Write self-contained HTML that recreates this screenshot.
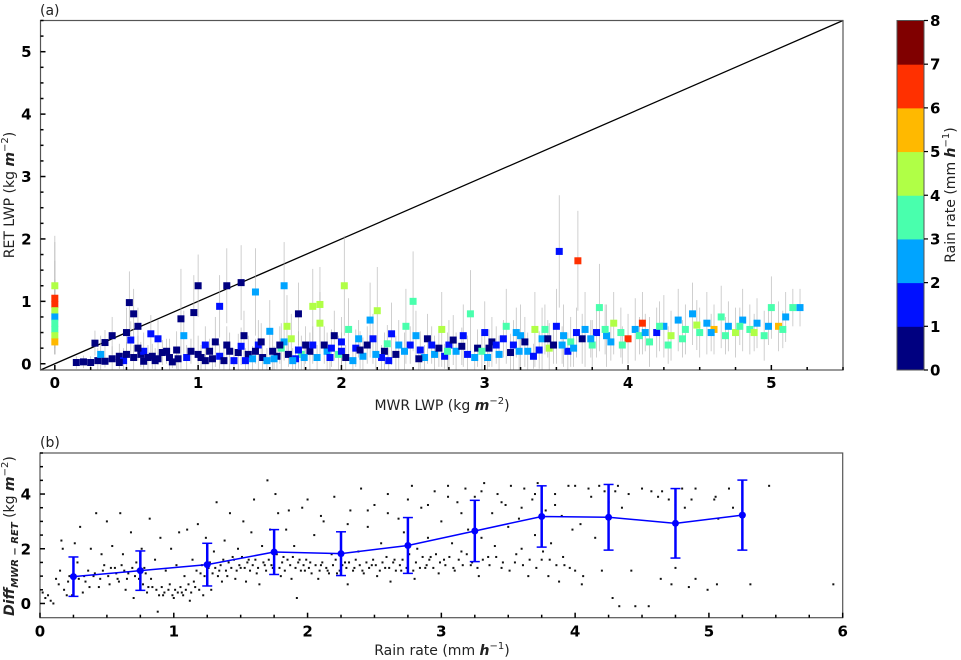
<!DOCTYPE html>
<html><head><meta charset="utf-8">
<style>
html,body{margin:0;padding:0;background:#fff;}
svg{display:block;font-family:"DejaVu Sans","Liberation Sans",sans-serif;}
.tk{font-weight:bold;font-size:15px;fill:#000;}
.lb{font-size:14px;fill:#222;}
</style></head>
<body>
<svg id="fig" width="961" height="660" viewBox="0 0 961 660" xmlns="http://www.w3.org/2000/svg">
<g id="pa"></g>
<g id="cb"></g>
<g id="pb"></g>
</svg>
<script>
// Panel (a) data: [mwr, ret, rainrate, err]
const ptsA = [
[0,1.25,4.5,0.8],[0,1.05,6.5,0.9],[0,0.95,6.5,0.7],[0,0.85,4.5,0.5],[0,0.75,2.5,0.5],[0,0.65,3.5,0.4],[0,0.55,3.5,0.4],[0,0.45,4.5,0.3],[0,0.35,5.5,0.2],
[0.15,0.02,0.5,0.1],[0.2,0.03,0.5,0.1],[0.25,0.02,0.5,0.1],[0.3,0.05,0.5,0.2],[0.28,0.33,0.5,0.2],[0.32,0.15,2.5,0.3],[0.35,0.34,0.5,0.2],[0.4,0.08,0.5,0.2],[0.4,0.45,0.5,0.3],[0.45,0.12,0.5,0.2],[0.48,0.05,1.5,0.2],[0.5,0.5,0.5,0.4],[0.52,0.98,0.5,0.5],[0.55,0.8,0.5,0.4],[0.53,0.38,1.5,0.3],[0.58,0.6,0.5,0.3],[0.6,0.15,0.5,0.2],[0.62,0.2,1.5,0.3],[0.65,0.1,0.5,0.2],[0.67,0.48,1.5,0.3],[0.7,0.05,0.5,0.2],[0.72,0.4,1.5,0.3],[0.75,0.18,0.5,0.2],[0.8,0.1,0.5,0.3],[0.85,0.22,0.5,0.3],[0.88,0.72,0.5,0.8],[0.9,0.45,2.5,0.4],[0.92,0.1,1.5,0.2],[0.97,0.82,0.5,0.6],[1.0,1.25,0.5,0.5],[1.0,0.15,0.5,0.3],[1.05,0.3,1.5,0.3],[1.1,0.08,0.5,0.2],[1.12,0.35,0.5,0.4],[1.15,0.92,1.5,0.5],[1.2,1.25,0.5,0.6],[1.22,0.2,0.5,0.3],[1.25,0.05,1.5,0.2],[1.3,1.3,0.5,0.6],[1.32,0.45,0.5,0.4],[1.35,0.15,0.5,0.3],[1.4,1.15,2.5,0.7],[1.42,0.3,1.5,0.4],[1.45,0.1,0.5,0.2],[1.5,0.52,2.5,0.5],[1.52,0.2,0.5,0.3],[1.58,0.25,3.5,0.4],[1.6,1.25,2.5,0.7],[1.62,0.6,4.5,0.5],[1.65,0.4,4.5,0.4],[1.7,0.8,0.5,0.5],[1.72,0.15,3.5,0.3],[1.75,0.3,0.5,0.3],[1.8,0.92,4.5,0.6],[1.85,0.95,4.5,0.6],[1.85,0.65,4.5,0.5],[1.9,0.2,2.5,0.3],[1.92,0.1,1.5,0.2],[1.95,0.45,0.5,0.4],[2.0,0.35,1.5,0.4],[2.02,1.25,4.5,0.8],[2.05,0.55,3.5,0.5],[2.1,0.25,1.5,0.3],[2.15,0.12,2.5,0.3],[2.2,0.7,2.5,0.6],[2.22,0.4,1.5,0.4],[2.25,0.85,4.5,0.7],[2.3,0.2,0.5,0.3],[2.35,0.48,1.5,0.5],[2.4,0.3,2.5,0.4],[2.45,0.6,3.5,0.6],[2.5,1.0,3.5,0.8],[2.55,0.22,1.5,0.3],[2.6,0.4,0.5,0.4],[2.65,0.15,2.5,0.3],[2.7,0.55,4.5,0.6],[2.75,0.3,1.5,0.4],[2.8,0.2,2.5,0.3],[2.85,0.45,1.5,0.5],[2.9,0.8,3.5,0.7],[2.95,0.25,0.5,0.3],[3.0,0.5,1.5,0.5],[3.05,0.35,0.5,0.4],[3.1,0.15,2.5,0.3],[3.15,0.6,3.5,0.6],[3.2,0.3,1.5,0.4],[3.25,0.45,2.5,0.5],[3.3,0.2,2.5,0.3],[3.35,0.55,4.5,0.6],[3.4,0.4,2.5,0.5],[3.45,0.25,4.5,0.4],[3.5,0.6,1.5,0.6],[3.52,1.8,1.5,0.9],[3.55,0.45,2.5,0.5],[3.6,0.35,3.5,0.4],[3.65,1.65,6.5,0.8],[3.7,0.55,2.5,0.6],[3.75,0.3,3.5,0.4],[3.8,0.9,3.5,0.7],[3.85,0.45,2.5,0.5],[3.9,0.65,4.5,0.5],[3.95,0.5,3.5,0.4],[4.0,0.4,6.5,0.4],[4.05,0.55,2.5,0.5],[4.1,0.65,6.5,0.5],[4.15,0.35,3.5,0.4],[4.2,0.5,1.5,0.4],[4.25,0.6,2.5,0.5],[4.3,0.45,4.5,0.4],[4.35,0.7,2.5,0.5],[4.4,0.55,3.5,0.4],[4.45,0.8,2.5,0.5],[4.5,0.5,3.5,0.4],[4.55,0.65,2.5,0.5],[4.6,0.55,5.5,0.4],[4.65,0.75,3.5,0.5],[4.7,0.6,2.5,0.4],[4.75,0.5,4.5,0.4],[4.8,0.7,2.5,0.5],[4.85,0.55,3.5,0.4],[4.9,0.65,2.5,0.4],[4.95,0.45,3.5,0.4],[5.0,0.9,3.5,0.5],[5.05,0.6,5.5,0.4],[5.1,0.75,2.5,0.4],[5.15,0.9,3.5,0.3],[5.2,0.9,2.5,0.3],
[1.05,0.05,0.5,0.2],[1.15,0.12,1.5,0.2],[1.28,0.18,0.5,0.3],[1.38,0.08,2.5,0.2],[1.48,0.05,2.5,0.2],[1.55,0.12,0.5,0.2],[1.68,0.08,1.5,0.2],[1.78,0.2,0.5,0.3],[1.88,0.3,0.5,0.3],[1.98,0.15,3.5,0.3],[2.08,0.05,2.5,0.2],[2.18,0.3,0.5,0.3],[2.28,0.1,1.5,0.2],[2.38,0.15,0.5,0.3],[2.48,0.3,1.5,0.3],[2.58,0.1,2.5,0.2],[2.68,0.25,0.5,0.3],[2.78,0.38,0.5,0.4],[2.88,0.15,1.5,0.3],[2.98,0.2,3.5,0.3],[3.08,0.3,1.5,0.3],[3.18,0.18,0.5,0.3],[3.28,0.35,0.5,0.4],[3.38,0.22,1.5,0.3],[3.48,0.3,0.5,0.3],[3.58,0.2,1.5,0.3],[3.68,0.4,0.5,0.4],[3.78,0.5,1.5,0.4],[0.82,0.03,0.5,0.1],[0.72,0.08,0.5,0.1],[0.62,0.04,0.5,0.1],[0.55,0.1,0.5,0.2],[0.45,0.02,0.5,0.1],[0.35,0.04,0.5,0.1],
[1.3,0.28,1.5,0.3],[1.6,0.35,2.5,0.3],[1.7,0.22,1.5,0.3],[2.0,0.2,1.5,0.3],[2.12,0.4,2.5,0.3],[2.32,0.32,3.5,0.3],[2.52,0.45,2.5,0.4],[2.72,0.12,1.5,0.2],[3.02,0.1,2.5,0.2],[3.22,0.5,2.5,0.4],[3.42,0.55,3.5,0.4],[3.62,0.25,2.5,0.3],[3.88,0.35,2.5,0.3],[4.08,0.45,3.5,0.3],[4.28,0.3,3.5,0.3],[4.48,0.62,4.5,0.4],[4.68,0.45,3.5,0.3],[4.88,0.5,4.5,0.3],[5.08,0.55,3.5,0.3],
[0.5,0.15,0.5,0.2],[0.58,0.25,0.5,0.2],[0.68,0.12,0.5,0.2],[0.78,0.2,0.5,0.2],[0.86,0.08,0.5,0.2],[0.95,0.2,0.5,0.2],[1.02,0.1,0.5,0.2],[1.08,0.2,0.5,0.2],[1.18,0.05,0.5,0.2],[1.2,0.3,0.5,0.3],[1.33,0.05,1.5,0.2],[1.4,0.2,0.5,0.2],[1.44,0.35,0.5,0.3],[1.53,0.08,2.5,0.2],[1.57,0.3,0.5,0.3],[1.63,0.15,0.5,0.2],[1.66,0.05,2.5,0.2],[1.74,0.1,2.5,0.2],[1.8,0.3,1.5,0.3],[1.83,0.1,2.5,0.2],[1.93,0.25,1.5,0.3],[2.03,0.1,0.5,0.2],[2.13,0.22,0.5,0.3],[2.24,0.15,2.5,0.3],[2.33,0.05,1.5,0.2],[2.44,0.2,2.5,0.3],[2.54,0.08,0.5,0.2],[2.63,0.3,1.5,0.3],[2.74,0.2,3.5,0.3],[2.84,0.28,0.5,0.3],[2.93,0.1,2.5,0.2],[3.03,0.25,0.5,0.3],[3.13,0.4,1.5,0.3],[3.24,0.2,2.5,0.3],[3.34,0.12,1.5,0.2],[3.44,0.4,0.5,0.3],[3.54,0.3,2.5,0.3],[3.64,0.5,1.5,0.4],[3.74,0.4,2.5,0.3],[3.84,0.55,3.5,0.4],[3.96,0.3,3.5,0.3],[4.12,0.5,2.5,0.3],[4.22,0.6,3.5,0.4],[4.38,0.4,3.5,0.3],[4.58,0.5,2.5,0.3],[4.78,0.6,3.5,0.3],[4.98,0.6,2.5,0.3]
];
const cbTicks = [0,1,2,3,4,5,6,7,8];
const cbColors = ["#000080","#0010ff","#00a4ff","#49ffad","#b0ff46","#ffb900","#ff3000","#800000"];
const xTicksA = [0,1,2,3,4,5];
const yTicksA = [0,1,2,3,4,5];
// Panel (b) data
const dotsB = [
[0.02,0.4],[0.04,0.2],[0.06,0.3],[0.08,0.1],[0.1,0.0],[0.12,0.9],[0.14,0.7],[0.15,1.2],[0.16,2.3],[0.17,2.0],[0.18,0.5],[0.2,0.3],[0.22,1.0],[0.24,0.3],[0.26,2.2],[0.28,1.5],[0.3,2.8],[0.32,0.4],[0.34,0.8],[0.36,1.2],[0.38,2.0],[0.4,1.0],[0.42,3.3],[0.44,0.6],[0.46,1.8],[0.48,1.4],[0.5,3.0],[0.52,0.7],[0.54,2.1],[0.56,1.3],[0.58,0.9],[0.6,3.3],[0.62,1.8],[0.64,0.5],[0.66,1.1],[0.68,2.6],[0.7,0.2],[0.72,1.5],[0.74,0.9],[0.76,2.0],[0.78,1.3],[0.8,0.4],[0.82,3.1],[0.84,0.6],[0.86,1.6],[0.88,-0.3],[0.9,2.4],[0.92,0.3],[0.94,1.2],[0.96,0.5],[0.98,2.0],[1.0,0.2],[1.02,1.4],[1.04,2.6],[1.06,0.4],[1.08,1.0],[1.1,2.7],[1.12,0.1],[1.14,1.6],[1.16,0.6],[1.18,2.9],[1.2,1.1],[1.22,0.3],[1.24,2.4],[1.26,1.3],[1.28,0.5],[1.3,1.9],[1.32,3.7],[1.34,1.2],[1.36,0.8],[1.38,2.3],[1.4,1.0],[1.42,3.3],[1.44,1.7],[1.46,0.9],[1.48,2.0],[1.5,1.3],[1.52,3.0],[1.54,0.8],[1.56,1.6],[1.58,2.6],[1.6,3.8],[1.62,1.1],[1.64,0.7],[1.66,2.1],[1.68,1.4],[1.7,4.5],[1.72,2.7],[1.74,1.3],[1.76,4.0],[1.78,3.3],[1.8,1.0],[1.82,1.7],[1.84,2.7],[1.86,3.4],[1.88,0.9],[1.9,2.1],[1.92,0.2],[1.94,1.6],[1.96,3.5],[1.98,1.2],[2.0,3.8],[2.02,1.5],[2.05,2.5],[2.08,0.9],[2.1,1.4],[2.12,3.0],[2.15,1.2],[2.18,1.8],[2.2,3.9],[2.22,1.1],[2.25,2.3],[2.28,1.5],[2.3,0.7],[2.32,3.4],[2.35,1.3],[2.38,1.9],[2.4,4.2],[2.42,1.1],[2.45,2.8],[2.48,1.4],[2.5,3.6],[2.52,1.0],[2.55,2.2],[2.58,1.3],[2.6,4.0],[2.62,0.8],[2.65,1.6],[2.68,3.1],[2.7,1.2],[2.72,2.6],[2.75,1.5],[2.78,4.3],[2.8,0.9],[2.82,2.0],[2.85,3.5],[2.88,1.3],[2.9,2.4],[2.92,1.7],[2.95,4.1],[2.98,1.1],[3.0,3.0],[3.02,1.6],[3.05,4.3],[3.08,2.2],[3.1,1.2],[3.12,3.7],[3.15,1.9],[3.18,4.2],[3.2,2.7],[3.22,1.4],[3.25,3.9],[3.28,1.0],[3.3,2.4],[3.32,4.4],[3.35,1.7],[3.38,3.3],[3.4,2.1],[3.42,4.0],[3.45,1.3],[3.48,3.6],[3.5,2.8],[3.52,4.3],[3.55,1.5],[3.58,3.1],[3.6,2.0],[3.62,4.2],[3.65,1.0],[3.68,3.8],[3.7,2.5],[3.72,4.4],[3.75,1.6],[3.78,3.4],[3.8,1.0],[3.82,2.2],[3.85,4.0],[3.88,0.8],[3.9,3.2],[3.92,1.4],[3.95,4.3],[3.98,2.7],[4.0,1.2],[4.04,2.9],[4.05,0.7],[4.06,1.0],[4.1,4.2],[4.15,2.4],[4.18,4.3],[4.2,1.2],[4.25,3.7],[4.28,0.2],[4.3,4.1],[4.33,-0.1],[4.35,3.5],[4.4,4.0],[4.42,1.2],[4.45,-0.1],[4.55,-0.1],[4.57,4.1],[4.62,3.9],[4.64,0.9],[4.7,3.8],[4.72,0.7],[4.75,1.3],[4.8,4.2],[4.82,3.5],[4.85,0.6],[4.87,3.8],[4.9,0.9],[4.99,0.5],[5.04,3.8],[5.06,0.7],[5.07,3.1],[5.15,4.2],[5.31,0.7],[5.45,4.3],[5.93,0.7],
[0.21,0.8],[0.25,1.1],[0.29,0.9],[0.33,1.0],[0.37,0.6],[0.41,1.1],[0.45,0.9],[0.47,1.2],[0.51,1.0],[0.53,1.3],[0.57,1.1],[0.59,0.8],[0.61,1.4],[0.63,1.2],[0.65,0.9],[0.69,1.3],[0.71,1.0],[0.73,1.2],[0.77,0.7],[0.79,1.1],[0.81,0.6],[0.83,0.9],[0.87,0.5],[0.89,0.3],[0.91,0.6],[0.93,0.4],[0.97,0.7],[0.99,0.3],[1.01,0.5],[1.03,0.4],[1.05,0.6],[1.07,0.3],[1.09,0.5],[1.11,0.7],[1.13,0.4],[1.15,0.8],[1.17,1.2],[1.19,0.5],[1.21,1.4],[1.23,1.0],[1.25,1.2],[1.27,1.5],[1.29,1.1],[1.31,1.3],[1.33,1.0],[1.35,1.4],[1.37,1.6],[1.39,1.2],[1.41,1.5],[1.43,1.3],[1.45,1.6],[1.47,1.2],[1.49,1.4],[1.51,1.7],[1.53,1.3],[1.55,1.5],[1.57,1.2],[1.59,1.4],[1.61,1.6],[1.63,1.3],[1.67,1.5],[1.69,1.2],[1.71,1.6],[1.73,1.4],[1.77,1.8],[1.79,1.3],[1.81,1.5],[1.83,1.2],[1.85,1.6],[1.87,1.4],[1.89,1.7],[1.91,1.3],[1.93,1.5],[1.95,1.2],[1.97,1.4],[1.99,1.6],[2.01,1.3],[2.03,1.1],[2.06,1.4],[2.09,1.2],[2.11,1.5],[2.14,1.3],[2.16,1.1],[2.19,1.4],[2.21,1.6],[2.24,1.2],[2.26,1.4],[2.29,1.3],[2.31,1.5],[2.34,1.2],[2.36,1.6],[2.39,1.4],[2.41,1.2],[2.44,1.5],[2.46,1.3],[2.49,1.6],[2.51,1.4],[2.54,1.2],[2.56,1.5],[2.59,1.7],[2.61,1.3],[2.64,1.5],[2.66,1.2],[2.69,1.4],[2.71,1.6],[2.74,1.3],[2.76,1.8],[2.79,1.2],[2.81,1.5],[2.84,1.3],[2.86,1.7],[2.89,1.4],[2.91,1.6],[2.94,1.3],[2.96,1.8],[2.99,1.5],[3.03,1.4],[3.06,1.7],[3.09,1.3],[3.13,1.6],[3.16,1.4],[3.19,1.8],[3.23,1.5],[3.27,1.3],[3.31,1.6],[3.36,1.4],[3.41,1.7],[3.46,1.5],[3.51,1.2],[3.56,1.8],[3.61,1.4],[3.66,1.6],[3.71,1.3],[3.76,1.9],[3.81,1.6],[3.86,1.4],[3.91,1.7],[3.96,1.3],
[2.1,3.2],[2.3,2.9],[2.45,3.4],[2.6,3.3],[2.75,3.8],[2.9,3.6],[3.05,3.9],[3.15,3.3],[3.3,4.1],[3.45,3.7],[3.6,3.5],[3.7,4.0],[3.85,3.6],[4.0,4.3],[4.12,3.9],[4.22,4.1],[4.32,4.3],[4.5,4.2],[4.65,4.1],[4.75,3.6],[4.9,4.2],[5.05,3.9],[5.18,3.5]
];
const binX = [0.25,0.75,1.25,1.75,2.25,2.75,3.25,3.75,4.25,4.75,5.25];
const binMean = [0.98,1.2,1.42,1.88,1.82,2.12,2.65,3.18,3.15,2.93,3.23];
const binStd = [0.72,0.72,0.78,0.82,0.8,1.02,1.12,1.12,1.2,1.27,1.28];
const xTicksB = [0,1,2,3,4,5,6];
const yTicksB = [0,2,4];

const NS="http://www.w3.org/2000/svg";
function mk(tag,attrs,parent,txt){const e=document.createElementNS(NS,tag);for(const k in attrs)e.setAttribute(k,attrs[k]);if(txt!==undefined)e.textContent=txt;parent.appendChild(e);return e;}

// ---- Panel A
const pa=document.getElementById('pa');
const A={l:40.5,r:843,t:20.5,b:370,x0:-0.1,x1:5.5,y0:-0.1,y1:5.5};
const ax=v=>A.l+(v-A.x0)/(A.x1-A.x0)*(A.r-A.l);
const ay=v=>A.b-(v-A.y0)/(A.y1-A.y0)*(A.b-A.t);
const diag=mk('line',{x1:ax(-0.1),y1:ay(-0.1),x2:ax(5.5),y2:ay(5.5),stroke:'#000','stroke-width':1.3},pa);


ptsA.forEach(p=>{
  const e=mk('line',{x1:ax(p[0]),x2:ax(p[0]),y1:ay(p[1]+p[3]),y2:ay(Math.max(-0.1,p[1]-p[3])),stroke:'#aaa','stroke-width':0.8,'stroke-opacity':0.7},pa);
  
  
});
ptsA.forEach(p=>{
  const c=cbColors[Math.min(7,Math.floor(p[2]))];
  const e=mk('rect',{x:ax(p[0])-3.5,y:ay(p[1])-3.5,width:7,height:7,fill:c},pa);
  
  
});
mk('rect',{x:A.l,y:A.t,width:A.r-A.l,height:A.b-A.t,fill:'none',stroke:'#555','stroke-width':1.2},pa);
for(let v=0;v<=5.5;v+=0.25){
  const big=Math.abs(v-Math.round(v))<1e-6;
  mk('line',{x1:ax(v),x2:ax(v),y1:A.b,y2:A.b-(big?5:3),stroke:'#000','stroke-width':1.5},pa);
  mk('line',{y1:ay(v),y2:ay(v),x1:A.l,x2:A.l+(big?5:3),stroke:'#000','stroke-width':1.5},pa);
}
xTicksA.forEach(v=>{const t=mk('text',{x:ax(v),y:A.b+18,'text-anchor':'middle',class:'tk'},pa,String(v));});
yTicksA.forEach(v=>{const t=mk('text',{x:A.l-9,y:ay(v)+5.5,'text-anchor':'end',class:'tk'},pa,String(v));});
let t=mk('text',{x:442,y:410,'text-anchor':'middle',class:'lb'},pa);
t.innerHTML='MWR LWP (kg <tspan font-weight="bold" font-style="italic">m</tspan><tspan dy="-6" font-size="10">−2</tspan><tspan dy="6">)</tspan>';

t=mk('text',{x:14,y:195,'text-anchor':'middle',class:'lb',transform:'rotate(-90 14 195)'},pa);
t.innerHTML='RET LWP (kg <tspan font-weight="bold" font-style="italic">m</tspan><tspan dy="-6" font-size="10">−2</tspan><tspan dy="6">)</tspan>';

t=mk('text',{x:40,y:15,class:'lb','font-size':'15'},pa,'(a)');


// ---- Colorbar
const cb=document.getElementById('cb');
const C={l:897,r:924,t:20.5,b:370};
const cy=v=>C.b-v/8*(C.b-C.t);
cbColors.forEach((c,i)=>{const e=mk('rect',{x:C.l,y:cy(i+1),width:C.r-C.l,height:cy(i)-cy(i+1)+0.5,fill:c},cb);});
mk('rect',{x:C.l,y:C.t,width:C.r-C.l,height:C.b-C.t,fill:'none',stroke:'#555','stroke-width':1},cb);
cbTicks.forEach(v=>{mk('line',{x1:C.r,x2:C.r+4,y1:cy(v),y2:cy(v),stroke:'#000','stroke-width':1.2},cb);
  const e=mk('text',{x:C.r+6,y:cy(v)+5.5,class:'tk'},cb,String(v));});
t=mk('text',{x:955,y:195,'text-anchor':'middle',class:'lb',transform:'rotate(-90 955 195)'},cb);
t.innerHTML='Rain rate (mm <tspan font-weight="bold" font-style="italic">h</tspan><tspan dy="-6" font-size="10">−1</tspan><tspan dy="6">)</tspan>';


// ---- Panel B
const pb=document.getElementById('pb');
const B={l:40,r:842.7,t:453,b:617.7,x0:0,x1:6,y0:-0.52,y1:5.5};
const bx=v=>B.l+(v-B.x0)/(B.x1-B.x0)*(B.r-B.l);
const by=v=>B.b-(v-B.y0)/(B.y1-B.y0)*(B.b-B.t);
dotsB.forEach(d=>{const e=mk('rect',{x:bx(d[0])-1,y:by(d[1])-1,width:2,height:2,fill:'#111'},pb);});
let pts=binX.map((x,i)=>bx(x)+','+by(binMean[i])).join(' ');
t=mk('polyline',{points:pts,fill:'none',stroke:'#0000ff','stroke-width':1.5},pb);

binX.forEach((x,i)=>{
  const g=mk('g',{},pb);
  
  
  const X=bx(x),y1=by(binMean[i]+binStd[i]),y2=by(binMean[i]-binStd[i]);
  mk('line',{x1:X,x2:X,y1:y1,y2:y2,stroke:'#0000ff','stroke-width':2.5},g);
  mk('line',{x1:X-5,x2:X+5,y1:y1,y2:y1,stroke:'#0000ff','stroke-width':1.5},g);
  mk('line',{x1:X-5,x2:X+5,y1:y2,y2:y2,stroke:'#0000ff','stroke-width':1.5},g);
  mk('circle',{cx:X,cy:by(binMean[i]),r:3.5,fill:'#0000ff'},g);
});
mk('rect',{x:B.l,y:B.t,width:B.r-B.l,height:B.b-B.t,fill:'none',stroke:'#555','stroke-width':1.2},pb);
for(let v=0;v<=6.001;v+=0.25){const big=Math.abs(v-Math.round(v))<1e-6;mk('line',{x1:bx(v),x2:bx(v),y1:B.b,y2:B.b-(big?5:3),stroke:'#000','stroke-width':1.5},pb);}
for(let v=0;v<=5.5;v+=0.5){const big=Math.abs(v/2-Math.round(v/2))<1e-6;mk('line',{y1:by(v),y2:by(v),x1:B.l,x2:B.l+(big?5:3),stroke:'#000','stroke-width':1.5},pb);}
xTicksB.forEach(v=>{const e=mk('text',{x:bx(v),y:B.b+19,'text-anchor':'middle',class:'tk'},pb,String(v));});
yTicksB.forEach(v=>{const e=mk('text',{x:B.l-9,y:by(v)+5.5,'text-anchor':'end',class:'tk'},pb,String(v));});
t=mk('text',{x:442,y:655,'text-anchor':'middle',class:'lb'},pb);
t.innerHTML='Rain rate (mm <tspan font-weight="bold" font-style="italic">h</tspan><tspan dy="-6" font-size="10">−1</tspan><tspan dy="6">)</tspan>';

t=mk('text',{x:14,y:536,'text-anchor':'middle',class:'lb',transform:'rotate(-90 14 536)'},pb);
t.innerHTML='<tspan font-weight="bold" font-style="italic">Diff</tspan><tspan font-weight="bold" font-style="italic" font-size="10" dy="4">MWR − RET</tspan><tspan dy="-4"> (kg </tspan><tspan font-weight="bold" font-style="italic">m</tspan><tspan dy="-6" font-size="10">−2</tspan><tspan dy="6">)</tspan>';

t=mk('text',{x:40,y:447,class:'lb','font-size':'15'},pb,'(b)');

</script>
</body></html>
